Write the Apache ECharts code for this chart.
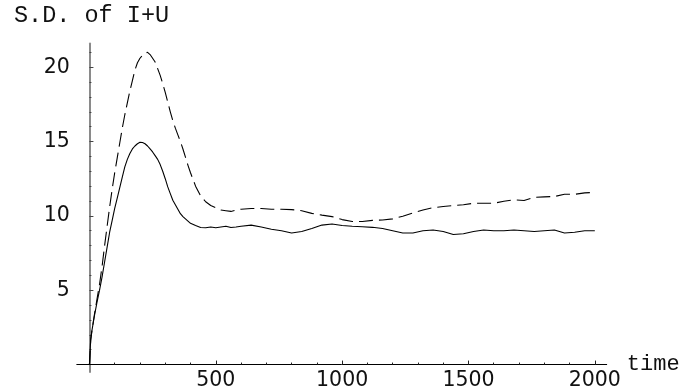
<!DOCTYPE html>
<html>
<head>
<meta charset="utf-8">
<script src="https://cdn.jsdelivr.net/npm/echarts@6/dist/echarts.min.js"></script>
<style>
html,body{margin:0;padding:0;background:#fff;}
#c{width:683px;height:391px;}
</style>
</head>
<body>
<div id="c"></div>
<script>
const time = [0,5,10,20,30,40,50,60,70,80,90,100,110,120,130,140,150,160,170,180,190,200,210,220,230,240,250,260,270,280,290,300,310,320,330,340,350,360,370,380,390,400,420,440,460,480,500,520,540,560,580,600,
640,680,720,760,800,840,880,920,960,1000,1040,1080,1120,1160,1200,1240,1280,1320,1360,1400,1440,1480,1520,1560,1600,1640,1680,1720,1760,1800,1840,1880,1920,1960,2000];
const sdSolid = [0,1.7,2.3,3.3,4.2,5.0,5.9,6.9,7.9,8.9,9.7,10.5,11.2,11.9,12.6,13.3,13.8,14.2,14.5,14.7,14.85,14.95,14.93,14.85,14.7,14.5,14.3,14.05,13.8,13.45,13.0,12.5,11.95,11.5,11.05,10.75,10.45,10.15,9.95,9.8,9.65,9.5,9.35,9.22,9.2,9.25,9.2,9.25,9.3,9.22,9.25,9.3,
9.38,9.25,9.1,9.0,8.85,8.95,9.15,9.38,9.45,9.35,9.3,9.27,9.23,9.15,9.0,8.85,8.85,9.0,9.05,8.95,8.75,8.8,8.95,9.05,9.0,9.0,9.05,9.0,8.95,9.0,9.05,8.85,8.9,9.0,9.0];
const sdDashed = [0,1.6,2.3,3.4,4.4,5.4,6.6,8.0,9.3,10.6,11.8,12.9,13.9,14.9,15.9,16.8,17.6,18.4,19.1,19.8,20.3,20.6,20.8,20.95,21.0,20.85,20.6,20.35,19.9,19.45,18.9,18.3,17.65,17.0,16.4,15.9,15.45,15.0,14.5,13.95,13.4,12.9,12.0,11.35,10.95,10.7,10.55,10.4,10.35,10.3,10.38,10.45,
10.5,10.5,10.45,10.45,10.42,10.35,10.17,10.05,9.95,9.75,9.62,9.62,9.7,9.72,9.8,9.98,10.2,10.4,10.55,10.63,10.7,10.75,10.85,10.85,10.85,10.98,11.08,11.03,11.25,11.28,11.3,11.45,11.45,11.55,11.58];
const xMajor = [500,1000,1500,2000];
const xMinor = [100,200,300,400,600,700,800,900,1100,1200,1300,1400,1600,1700,1800,1900];
const yMajor = [5,10,15,20];
const yMinor = [1,2,3,4,6,7,8,9,11,12,13,14,16,17,18,19,21];

const X_MIN = -50, X_MAX = 2047, Y_MIN = -0.5, Y_MAX = 21.6;
const tickFont = {fontFamily:'DejaVu Sans', fontSize:20.5, color:'#111', formatter: v => String(v)};

function xAxisDef(major){
  return {
    type:'value', min:X_MIN, max:X_MAX, position:'bottom',
    splitLine:{show:false},
    axisLine:{show:major, onZero:true, lineStyle:{color:'#000', width:1}},
    axisTick:{show:true, inside:true, length: major?4:2, customValues: major?xMajor:xMinor, lineStyle:{color:'#222', width:1}},
    axisLabel: major ? Object.assign({show:true, customValues:xMajor, margin:-2}, tickFont) : {show:false},
    name: major ? 'time' : '',
    nameLocation:'end', nameGap:20,
    nameTextStyle:{fontFamily:'Liberation Mono', fontSize:22, color:'#111', verticalAlign:'middle', padding:[0,0,0,0]}
  };
}
function yAxisDef(major){
  return {
    type:'value', min:Y_MIN, max:Y_MAX, position:'left',
    splitLine:{show:false},
    axisLine:{show:major, onZero:true, lineStyle:{color:'#8a8a8a', width:2}},
    axisTick:{show:true, inside:true, length: major?4:2, customValues: major?yMajor:yMinor, lineStyle:{color:'#444', width:1}},
    axisLabel: major ? Object.assign({show:true, customValues:yMajor, margin:7}, tickFont) : {show:false}
  };
}

const chart = echarts.init(document.getElementById('c'), null, {renderer:'canvas'});
chart.setOption({
  animation:false,
  backgroundColor:'#fff',
  title:{text:'S.D. of I+U', left:9, top:-1, textStyle:{fontFamily:'Liberation Mono', fontSize:23.5, fontWeight:'normal', color:'#111'}},
  grid:{left:76.8, right:76.3, top:43.4, bottom:19, containLabel:false, outerBoundsMode:'none'},
  xAxis:[xAxisDef(true), xAxisDef(false)],
  yAxis:[yAxisDef(true), yAxisDef(false)],
  series:[
    {type:'line', xAxisIndex:0, yAxisIndex:0, data: time.map((t,i)=>[t, sdDashed[i]]), showSymbol:false, smooth:false,
     lineStyle:{color:'#000', width:1.1, type:[14,6]}},
    {type:'line', xAxisIndex:0, yAxisIndex:0, data: time.map((t,i)=>[t, sdSolid[i]]), showSymbol:false, smooth:false,
     lineStyle:{color:'#000', width:1.1}}
  ]
});
</script>
</body>
</html>
